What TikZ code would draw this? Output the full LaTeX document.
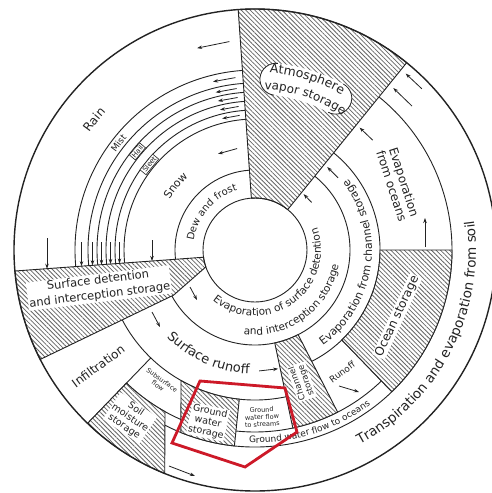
\documentclass[tikz,border=0pt]{standalone}
\usepackage{fontspec}
\newfontfamily\hyfont{DejaVu Sans}
\usetikzlibrary{decorations.text,patterns.meta,arrows.meta}
\definecolor{annred}{RGB}{205,25,40}
\definecolor{ink}{RGB}{35,35,35}
\newcommand\szA{\hyfont\fontsize{13.5}{14.5}\selectfont}
\newcommand\szR{\hyfont\fontsize{13}{14}\selectfont}
\newcommand\szB{\hyfont\fontsize{12.5}{13.5}\selectfont}
\newcommand\szC{\hyfont\fontsize{12}{13}\selectfont}
\newcommand\szD{\hyfont\fontsize{11}{12}\selectfont}
\newcommand\szK{\hyfont\fontsize{10.5}{11.5}\selectfont}
\newcommand\szE{\hyfont\fontsize{10}{11}\selectfont}
\newcommand\szF{\hyfont\fontsize{9.5}{10.5}\selectfont}
\newcommand\szG{\hyfont\fontsize{9}{10}\selectfont}
\newcommand\szH{\hyfont\fontsize{8.5}{9.5}\selectfont}
\newcommand\szI{\hyfont\fontsize{7}{8}\selectfont}
\newcommand\szJ{\hyfont\fontsize{6.5}{7.2}\selectfont}
\newcommand\szS{\hyfont\fontsize{11.5}{15}\selectfont}
% curved labels: #1 font, #2 text, #3 centre angle, #4 baseline radius, #5 half span
\newcommand\cwlabel[5]{\path[decorate,decoration={text along path,text align=center,text color=ink,text={|#1|#2}}] ({#3+#5}:#4pt) arc[start angle={#3+#5},end angle={#3-#5},radius=#4pt];}
\newcommand\ccwlabel[5]{\path[decorate,decoration={text along path,text align=center,text color=ink,text={|#1|#2}}] ({#3-#5}:#4pt) arc[start angle={#3-#5},end angle={#3+#5},radius=#4pt];}
\begin{document}
\begin{tikzpicture}[x=1pt,y=1pt,
  bd/.style={draw=ink,line width=0.9pt},
  hatchreg/.style={preaction={fill=white},pattern={Lines[angle=-45,distance=3.2pt,line width=0.8pt]},pattern color=black!60,draw=ink,line width=0.9pt},
  halo/.style={fill=white,inner sep=1pt,text=ink},
  plain/.style={inner sep=1pt,text=ink},
  arr/.style={draw=ink,line width=0.8pt,-{Stealth[length=5pt,width=3.5pt]}},
  tagbox/.style={draw=ink,fill=white,line width=0.6pt,inner sep=1.2pt,text=ink,font=\szI},
  annot/.style={draw=annred,line width=2.8pt,line join=miter}]

\fill[white] (-255,-243) rectangle (237,250);
\useasboundingbox (-255,-243) rectangle (237,250);

% ---- plain ring boundaries
\foreach \r in {180,167,158,149,140,131,80}
  \draw[bd] (90:\r pt) arc[start angle=90,end angle=190,radius=\r pt];
\draw[bd] (200:95pt) arc[start angle=200,end angle=415,radius=95pt];
\draw[bd] (200:150pt) arc[start angle=200,end angle=282,radius=150pt];
\draw[bd] (295:125pt) arc[start angle=295,end angle=415,radius=125pt];
\draw[bd] (242.8:197pt) arc[start angle=242.8,end angle=415,radius=197pt];
\draw[bd] (264:182pt) arc[start angle=264,end angle=314,radius=182pt];
\draw[bd] (226:150pt) -- (226:241pt);
\draw[bd] (226:185pt) arc[start angle=226,end angle=246.4,radius=185pt];
\draw[bd] (314:125pt) -- (314:197pt);

% ---- hatched storages
\path[hatchreg] (51:52pt) arc[start angle=51,end angle=94,radius=52pt] -- (94:241pt) arc[start angle=94,end angle=51,radius=241pt] -- cycle;
\path[hatchreg] (185:241pt) arc[start angle=185,end angle=207,radius=241pt] -- (209:93pt) -- (199:52pt) arc[start angle=199,end angle=188,radius=52pt] -- cycle;
\path[hatchreg] (226:185pt) -- (226:241pt) arc[start angle=226,end angle=248,radius=241pt] -- (-90,-161.6) arc[start angle=240.9,end angle=226,radius=185pt] -- cycle;
\path[hatchreg] (-74,-130.5) arc[start angle=240.45,end angle=264,radius=150pt] -- (264:197pt) arc[start angle=264,end angle=247.9,radius=197pt] -- cycle;
\path[hatchreg] (282:95pt) arc[start angle=282,end angle=297,radius=95pt] -- (297:182pt) arc[start angle=297,end angle=282,radius=182pt] -- cycle;
\path[hatchreg] (314:125pt) arc[start angle=314,end angle=360,radius=125pt] -- (0:197pt) arc[start angle=360,end angle=314,radius=197pt] -- cycle;

\draw[bd] (0,0) circle[radius=52pt];
\draw[bd,line width=1.4pt] (0,0) circle[radius=241pt];

% white band behind the atmosphere label, with its rounded ends
\draw[white,line width=32pt,line cap=round] (83:172pt) arc[start angle=83,end angle=62,radius=172pt];
\draw[ink,line width=0.8pt] (83:172pt) ++(83:16pt) arc[start angle=83,end angle=263,radius=16pt];
\draw[ink,line width=0.8pt] (62:172pt) ++(62:16pt) arc[start angle=62,end angle=-118,radius=16pt];

% ---- curved labels
\cwlabel{\szC}{Rain}{141}{203}{30}
\cwlabel{\szG}{Mist}{142}{170}{25}
\cwlabel{\szD}{Snow}{141}{99}{40}
\cwlabel{\szE}{Dew and frost}{139}{62}{65}
\cwlabel{\szB}{Atmosphere}{73}{178}{22}
\cwlabel{\szC}{vapor storage}{71.8}{161}{26}
\ccwlabel{\szR}{Surface runoff}{246}{124}{40}
\ccwlabel{\szK}{Evaporation of surface detention}{305}{66}{110}
\ccwlabel{\szK}{and interception storage}{306}{85}{80}
\ccwlabel{\szD}{Evaporation from channel storage}{-8.5}{117}{70}
\ccwlabel{\szA}{Transpiration and evaporation from soil}{-27}{221}{60}
\ccwlabel{\szG}{Ground water flow to oceans}{-72.5}{193}{30}

% ---- straight labels
\node[halo,rotate=7,align=center,font=\szS] (sdet) at (-156,-38) {Surface detention\\and interception storage};
\node[plain,rotate=36.5,font=\szC] (infil) at (216.5:195pt) {Infiltration};
\node[halo,rotate=-34,align=center,font=\szF] (soil) at (-125,-168) {Soil\\moisture\\storage};
\node[plain,rotate=-36,align=center,font=\szJ] (subs) at (-95,-133) {Subsurface\\flow};
\node[halo,rotate=-12,align=center,font=\szF] (gws) at (-47,-172) {Ground\\water\\storage};
\node[plain,rotate=3,align=center,font=\szJ] (gwfs) at (7,-167) {Ground\\water flow\\to streams};
\node[halo,rotate=109.5,align=center,font=\szH] (chs) at (289.5:140pt) {Channel\\storage};
\node[plain,rotate=36,font=\szG] (roff) at (305.5:150pt) {Runoff};
\node[halo,rotate=65,font=\szC] (ocs) at (335:157pt) {Ocean storage};
\node[plain,rotate=-72,align=center,font=\szC] (evoc) at (143,66) {Evaporation\\from oceans};
\node[tagbox,rotate=50] (hail) at (140:153.5pt) {Hail};
\node[tagbox,rotate=51] (sleet) at (141:136pt) {Sleet};

% ---- arrows: precipitation leaving the atmosphere
\draw[arr] (97:210pt) -- (106:210pt);
\foreach \r in {173.5,162.5,153.5,144.5,135.5}
  \draw[arr] (96.5:\r pt) -- (104:\r pt);
\draw[arr] (100:103pt) -- (111:103pt);
% precipitation reaching surface detention
\draw[arr] (-208,12) -- (-208,-18.7);
\draw[arr] (-173.5,8) -- (-173.5,-16.1);
\draw[arr] (-162.5,8) -- (-162.5,-15.3);
\draw[arr] (-153.5,8) -- (-153.5,-14.7);
\draw[arr] (-144.5,8) -- (-144.5,-14.0);
\draw[arr] (-135.5,8) -- (-135.5,-13.4);
\draw[arr] (-103,10) -- (-103,-11);
% evaporation returning to the atmosphere
\draw[arr] (40:74pt) -- (49:74pt);
\draw[arr] (41:110pt) -- (49:110pt);
\draw[arr] (43:161pt) -- (49.5:161pt);
\draw[arr] (42.5:213pt) -- (49.5:213pt);
\draw[arr] (44:232pt) -- (49.5:232pt);
\draw[arr] (170,3) -- (170,32);
% surface flows
\draw[arr] (272:121pt) -- (281:121pt);
\draw[arr] (-103,-62) -- (-95,-77);
\draw[arr] (-65,-37) -- (-58,-50);
\draw[arr] (-86,-216) -- (-60,-226);
\draw[arr] (84,-136) -- (104,-142);

% ---- red annotation
\draw[annot] (-55,-131) -- (30,-138) -- (42,-182) -- (-10,-217) -- (-83,-193) -- cycle;
\end{tikzpicture}
\end{document}
